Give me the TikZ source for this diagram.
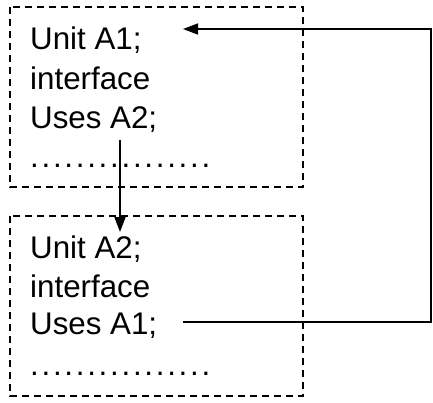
\documentclass[tikz,border=0pt]{standalone}
\usepackage{fontspec}
\setmainfont{Liberation Sans}
\usetikzlibrary{arrows.meta}
\begin{document}
\begin{tikzpicture}[x=1pt,y=-1pt,
  unitbox/.style={draw,line width=1.6pt,dash pattern=on 7pt off 5pt,inner sep=0pt},
  codeline/.style={anchor=base west,inner sep=0pt,font=\fontsize{31.3}{39}\selectfont},
  link/.style={line width=1.5pt,-{Triangle[length=15pt,width=11pt]}}]
\useasboundingbox (0,0) rectangle (433,402);
% dashed unit frames
\draw[unitbox] (10,7) rectangle (303,187);
\draw[unitbox] (10,216) rectangle (303,396);
% unit A1
\node[codeline] (a1unit) at (30,49) {Unit A1;};
\node[codeline] (a1intf) at (30,89) {interface};
\node[codeline] (a1uses) at (30,128) {Uses A2;};
\node[codeline] (a1dots) at (30,167) {\makebox[180pt][l]{.\hfill.\hfill.\hfill.\hfill.\hfill.\hfill.\hfill.\hfill.\hfill.\hfill.\hfill.\hfill.\hfill.\hfill.\hfill.}};
% unit A2
\node[codeline] (a2unit) at (30,258) {Unit A2;};
\node[codeline] (a2intf) at (30,297) {interface};
\node[codeline] (a2uses) at (30,334) {Uses A1;};
\node[codeline] (a2dots) at (30,375) {\makebox[180pt][l]{.\hfill.\hfill.\hfill.\hfill.\hfill.\hfill.\hfill.\hfill.\hfill.\hfill.\hfill.\hfill.\hfill.\hfill.\hfill.}};
% connector end points
\coordinate (usesA2) at (120,140);
\coordinate (unitA2) at (120,232);
\coordinate (usesA1) at (183,322);
\coordinate (unitA1) at (183,29);
\coordinate (loopR) at (431,0);
% A1 uses A2
\draw[link] (usesA2) -- (unitA2);
% A2 uses A1
\draw[link] (usesA1) -- (usesA1 -| loopR) -- (unitA1 -| loopR) -- (unitA1);
\end{tikzpicture}
\end{document}
